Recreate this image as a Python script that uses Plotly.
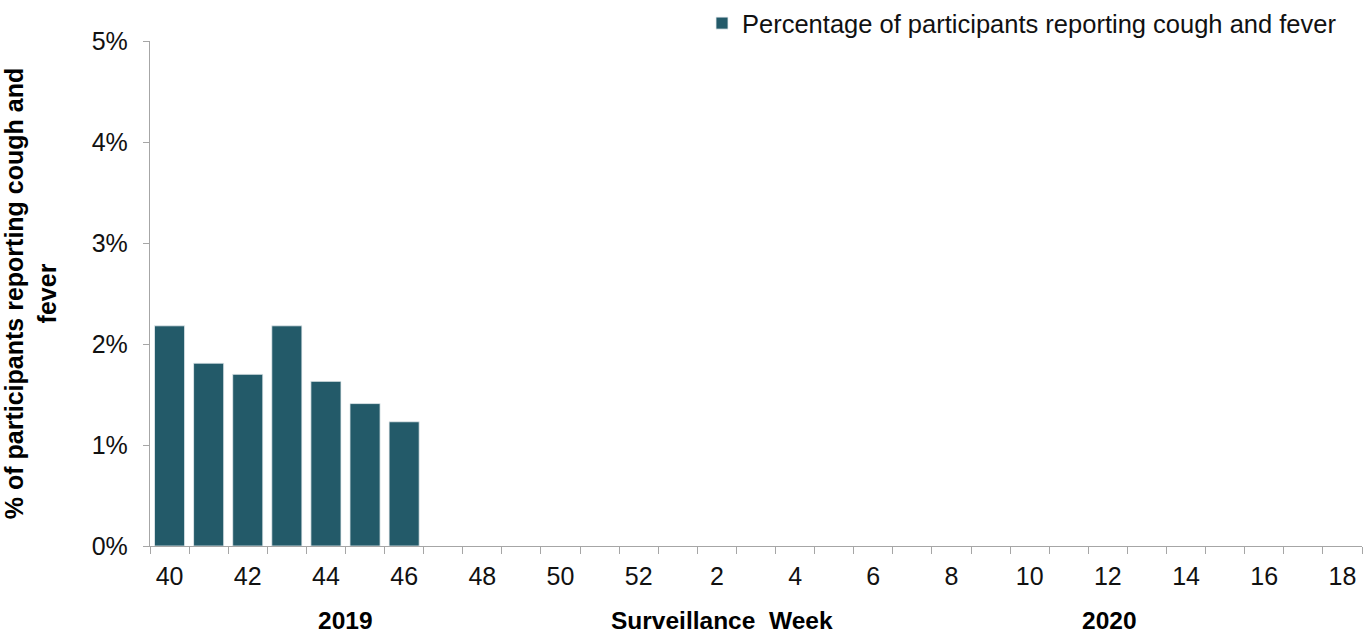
import plotly.graph_objects as go

weeks = ["40", "41", "42", "43", "44", "45", "46", "47", "48", "49", "50", "51", "52",
         "1", "2", "3", "4", "5", "6", "7", "8", "9", "10", "11", "12", "13", "14", "15", "16", "17", "18"]
values = [2.18, 1.81, 1.70, 2.18, 1.63, 1.41, 1.23]
series_name = "Percentage of participants reporting cough and fever"
y_title = "% of participants reporting cough and<br>fever"
year_labels = ["2019", "2020"]
x_title = "Surveillance  Week"

idx = list(range(len(weeks)))
shown = [i for i in idx if i % 2 == 0]

FONT = "Liberation Sans, Arial, sans-serif"
BAR = "#235A69"
TXT = "#111111"

fig = go.Figure()
fig.add_trace(go.Bar(
    x=idx[:len(values)], y=values, name=series_name,
    marker=dict(color=BAR, line=dict(color="#e8eef0", width=0.8)),
    showlegend=True,
))

fig.update_layout(
    width=1363, height=634,
    margin=dict(l=150, r=1, t=40, b=88),
    paper_bgcolor="white", plot_bgcolor="white",
    font=dict(family=FONT, size=25, color=TXT),
    bargap=0.23,
    showlegend=True,
    legend=dict(x=0.9835, xanchor="right", y=1.079, yanchor="top", orientation="h",
                font=dict(size=25.5, color=TXT), itemwidth=30,
                bgcolor="rgba(0,0,0,0)", borderwidth=0),
    xaxis=dict(
        range=[-0.5, len(weeks) - 0.5], tickmode="array",
        tickvals=shown, ticktext=[weeks[i] for i in shown],
        ticks="", showgrid=False, zeroline=False,
        showline=True, linecolor="#a6a6a6", linewidth=1.3,
        tickfont=dict(size=25, color=TXT),
        minor=dict(tick0=-0.5, dtick=1, ticks="outside", ticklen=7, tickcolor="#a6a6a6", tickwidth=1.3, showgrid=False),
        ticklabelstandoff=8,
    ),
    yaxis=dict(
        range=[0, 5], dtick=1, ticksuffix="%", showgrid=False, zeroline=False,
        showline=True, linecolor="#a6a6a6", linewidth=1.3,
        ticks="outside", ticklen=6, tickcolor="#a6a6a6", tickwidth=1.3,
        tickfont=dict(size=25, color=TXT),
        ticklabelstandoff=10,
        title=dict(text=y_title, font=dict(size=25, color="#000000", family=FONT, weight="bold"), standoff=28),
    ),
)

ann_y = -0.148
fig.add_annotation(x=4.5, y=ann_y, xref="x", yref="paper", text=year_labels[0],
                   showarrow=False, font=dict(size=24.5, color="#000000", weight="bold"), yanchor="middle")
fig.add_annotation(x=14.13, y=ann_y, xref="x", yref="paper", text=x_title,
                   showarrow=False, font=dict(size=24.5, color="#000000", weight="bold"), yanchor="middle")
fig.add_annotation(x=24.05, y=ann_y, xref="x", yref="paper", text=year_labels[1],
                   showarrow=False, font=dict(size=24.5, color="#000000", weight="bold"), yanchor="middle")

fig.write_html("out.html", config={"displayModeBar": False},
               post_script="document.body.style.margin='0px';document.body.style.overflow='hidden';")
